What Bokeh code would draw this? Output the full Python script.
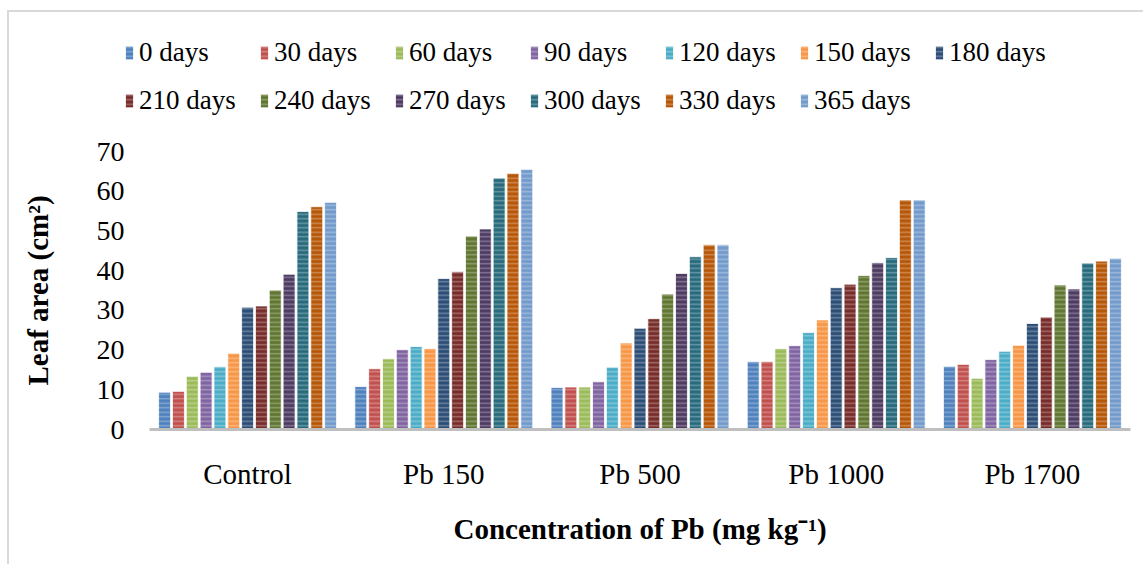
from bokeh.plotting import figure
from bokeh.models import ColumnDataSource, FactorRange, Legend, LegendItem, FixedTicker, Range1d
from bokeh.transform import dodge
from bokeh.embed import file_html
from bokeh.resources import INLINE

categories = ["Control", "Pb 150", "Pb 500", "Pb 1000", "Pb 1700"]
series_names = ["0 days", "30 days", "60 days", "90 days", "120 days", "150 days", "180 days",
                "210 days", "240 days", "270 days", "300 days", "330 days", "365 days"]
d0 = [9.4, 10.8, 10.6, 17.1, 15.9]
d30 = [9.6, 15.3, 10.7, 17.1, 16.4]
d60 = [13.4, 17.8, 10.7, 20.4, 12.9]
d90 = [14.4, 20.1, 12.0, 21.1, 17.6]
d120 = [15.8, 20.9, 15.7, 24.4, 19.7]
d150 = [19.2, 20.4, 21.8, 27.6, 21.2]
d180 = [30.8, 38.0, 25.5, 35.7, 26.7]
d210 = [31.1, 39.7, 27.9, 36.6, 28.3]
d240 = [35.1, 48.7, 34.1, 38.8, 36.4]
d270 = [39.1, 50.5, 39.3, 42.0, 35.4]
d300 = [54.9, 63.3, 43.5, 43.3, 41.9]
d330 = [56.1, 64.5, 46.5, 57.8, 42.4]
d365 = [57.2, 65.5, 46.5, 57.8, 43.1]
series_values = [d0, d30, d60, d90, d120, d150, d180, d210, d240, d270, d300, d330, d365]
colors = ["#4F81BD", "#C0504D", "#9BBB59", "#8064A2", "#4BACC6", "#F79646", "#2C4D75",
          "#772C2A", "#5F7530", "#4D3B62", "#276A7C", "#B65708", "#729ACA"]
y_ticks = [0, 10, 20, 30, 40, 50, 60, 70]

data = {"cat": categories}
for i, vals in enumerate(series_values):
    data[f"s{i}"] = vals
source = ColumnDataSource(data)

FONT = "Liberation Serif"
bar_style = dict(line_color="white", line_width=0.8, hatch_pattern="horizontal_line",
                 hatch_color="white", hatch_alpha=0.3, hatch_scale=4.5, hatch_weight=1.5)

# ---- legend strip (separate root, so its frame is not aligned with the chart) ----
leg_fig = figure(width=1136, height=120, x_range=Range1d(0, 1), y_range=Range1d(0, 1),
                 output_backend="svg", toolbar_location=None,
                 min_border_left=0, min_border_right=0, min_border_top=0, min_border_bottom=0)
leg_fig.axis.visible = False
leg_fig.grid.grid_line_color = None
leg_fig.outline_line_color = None
# placeholder bars lie outside the visible range; they only carry the legend styles
dummy = ColumnDataSource(dict(x=[0.5], top=[-1.0]))
items = []
for i, name in enumerate(series_names):
    r = leg_fig.vbar(x="x", top="top", bottom=-0.5, width=0.1, source=dummy,
                     fill_color=colors[i], **bar_style)
    items.append(LegendItem(label=name, renderers=[r], index=0))
legend = Legend(items=items, location=(115, 12), orientation="horizontal", ncols=7,
                glyph_width=10, glyph_height=17, label_standoff=5, label_width=112,
                label_height=40, spacing=8, padding=0, margin=0,
                border_line_color=None, background_fill_alpha=0,
                label_text_font=FONT, label_text_font_size="27px", label_text_color="black")
leg_fig.add_layout(legend, "center")
leg_fig.styles = {"margin-left": "7px", "margin-top": "10px",
                  "border-left": "2px solid #D9D9D9", "border-top": "2px solid #D9D9D9"}

# ---- chart ----
p = figure(x_range=FactorRange(*categories, range_padding=0, factor_padding=0),
           y_range=(0, 70), width=1136, height=434,
           output_backend="svg", toolbar_location=None,
           min_border_left=140, min_border_right=15, min_border_top=21, min_border_bottom=135)
p.styles = {"margin-left": "7px", "border-left": "2px solid #D9D9D9"}

slot = 0.0705
for i, name in enumerate(series_names):
    off = (i - 6) * slot
    p.vbar(x=dodge("cat", off, range=p.x_range), top=f"s{i}", width=0.061, source=source,
           fill_color=colors[i], **bar_style)

p.grid.grid_line_color = None
p.outline_line_color = None
p.background_fill_color = "white"

p.yaxis.ticker = FixedTicker(ticks=y_ticks)
p.yaxis.axis_line_color = None
p.yaxis.major_tick_line_color = None
p.yaxis.minor_tick_line_color = None
p.yaxis.major_label_standoff = 19
p.yaxis.major_label_text_font = FONT
p.yaxis.major_label_text_font_size = "28px"
p.yaxis.major_label_text_color = "black"
p.yaxis.axis_label = "Leaf area (cm²)"
p.yaxis.axis_label_text_font = FONT
p.yaxis.axis_label_text_font_size = "29px"
p.yaxis.axis_label_text_font_style = "bold"
p.yaxis.axis_label_text_color = "black"
p.yaxis.axis_label_standoff = 40

p.xaxis.axis_line_color = "#BFBFBF"
p.xaxis.axis_line_width = 3
p.xaxis.major_tick_line_color = None
p.xaxis.minor_tick_line_color = None
p.xaxis.major_label_standoff = 22
p.xaxis.major_label_text_font = FONT
p.xaxis.major_label_text_font_size = "29px"
p.xaxis.major_label_text_color = "black"
p.xaxis.axis_label = "Concentration of Pb (mg kg⁻¹)"
p.xaxis.axis_label_text_font = FONT
p.xaxis.axis_label_text_font_size = "29px"
p.xaxis.axis_label_text_font_style = "bold"
p.xaxis.axis_label_text_color = "black"
p.xaxis.axis_label_standoff = 20

open("out.html", "w").write(file_html([leg_fig, p], INLINE))
